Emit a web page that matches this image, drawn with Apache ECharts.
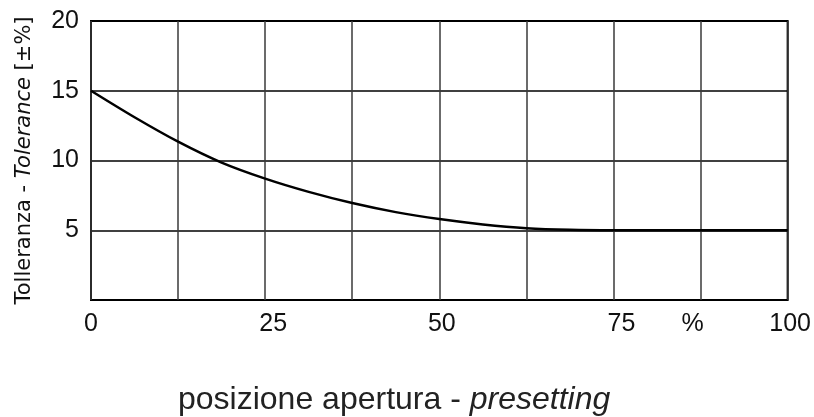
<!DOCTYPE html>
<html>
<head>
<meta charset="utf-8">
<script src="https://cdn.jsdelivr.net/npm/echarts@6/dist/echarts.min.js"></script>
<style>html,body{margin:0;padding:0;background:#fff}#c{width:814px;height:417px}</style>
</head>
<body>
<div id="c"></div>
<script>
var xValues = [0, 6.25, 12.5, 18.75, 25, 31.25, 37.5, 43.75, 50, 56.25, 62.5, 68.75, 75, 81.25, 87.5, 93.75, 100];
var yValues = [15, 13.1, 11.35, 9.85, 8.7, 7.75, 6.95, 6.3, 5.8, 5.42, 5.15, 5.03, 5, 5, 5, 5, 5];
var xTickLabels = {0: '0', 25: '25', 50: '50', 75: '75', 87.5: '%', 100: '100'};
var yTickLabels = {5: '5', 10: '10', 15: '15', 20: '20'};

// label nudges (style only)
var xLabelStyle = {0: 'c', 25: 'r', 50: 'rs', 75: 'r', 87.5: 'l', 100: 'rs'};

var chart = echarts.init(document.getElementById('c'));
var data = xValues.map(function (x, i) { return [x, yValues[i]]; });
var lblFont = { fontFamily: 'Liberation Sans', fontSize: 25, color: '#111' };
chart.setOption({
  animation: false,
  grid: { left: 91, right: 26, top: 21, bottom: 117, show: true, borderColor: '#000', borderWidth: 2 },
  xAxis: {
    type: 'value', min: 0, max: 100, interval: 12.5,
    axisLine: { show: false }, axisTick: { show: false },
    splitLine: { show: true, lineStyle: { color: '#3a3a3a', width: 1.5 } },
    axisLabel: {
      color: '#111', fontFamily: 'Liberation Sans', fontSize: 25, margin: 12,
      formatter: function (v) {
        if (xTickLabels[v] === undefined) return '';
        return '{' + xLabelStyle[v] + '|' + xTickLabels[v] + '}';
      },
      rich: {
        c: Object.assign({}, lblFont),
        r: Object.assign({ padding: [0, 0, 0, 16] }, lblFont),
        rs: Object.assign({ padding: [0, 0, 0, 5] }, lblFont),
        l: Object.assign({ padding: [0, 16, 0, 0] }, lblFont)
      }
    }
  },
  yAxis: {
    type: 'value', min: 0, max: 20, interval: 5,
    axisLine: { show: false }, axisTick: { show: false },
    splitLine: { show: true, lineStyle: { color: '#000', width: 1.5 } },
    axisLabel: {
      color: '#111', fontFamily: 'Liberation Sans', fontSize: 25, margin: 12,
      formatter: function (v) { return yTickLabels[v] !== undefined ? yTickLabels[v] : ''; }
    },
    name: '{n|Tolleranza - }{i|Tolerance}{n| [±%]}',
    nameLocation: 'middle', nameGap: 56, nameRotate: 90,
    nameTextStyle: {
      rich: {
        n: { fontFamily: 'DejaVu Sans', fontSize: 21, color: '#111' },
        i: { fontFamily: 'DejaVu Sans', fontSize: 21, fontStyle: 'italic', color: '#111' }
      }
    }
  },
  graphic: [{
    type: 'text', left: 178, top: 384,
    style: {
      text: '{n|posizione apertura - }{i|presetting}',
      rich: {
        n: { fontFamily: 'Liberation Sans', fontSize: 32, fill: '#222' },
        i: { fontFamily: 'Liberation Sans', fontSize: 32, fontStyle: 'italic', fill: '#222' }
      }
    }
  }],
  series: [{
    type: 'line', data: data, smooth: 0.3, showSymbol: false,
    lineStyle: { color: '#000', width: 2.5 }
  }]
});
</script>
</body>
</html>
